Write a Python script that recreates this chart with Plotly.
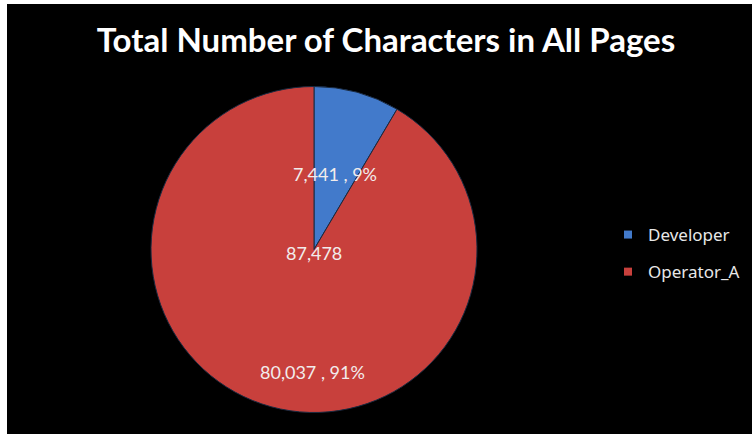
import math
import plotly.graph_objects as go

title = "Total Number of Characters in All Pages"
categories = ["Developer", "Operator_A"]
values = [7441, 80037]
colors = ["#427acb", "#c8403c"]

total = sum(values)

W, H = 752, 434
# pie geometry (style)
cx_px, cy_px, R_px = 314, 249.5, 163
# label placement style: (radius fraction, angular offset in degrees from slice mid-angle)
label_style = [(0.48, 0.0), (0.83, -14.5)]
txt_font = dict(family="Lato", size=18, color="#f2ecec")

fig = go.Figure()

dom_x = [(cx_px - R_px) / W, (cx_px + R_px) / W]
dom_y = [1 - (cy_px + R_px) / H, 1 - (cy_px - R_px) / H]

fig.add_trace(go.Pie(
    labels=categories,
    values=values,
    sort=False,
    direction="clockwise",
    rotation=0,
    marker=dict(colors=colors, line=dict(color="#1a2a40", width=1)),
    textinfo="none",
    domain=dict(x=dom_x, y=dom_y),
    showlegend=False,
    hoverinfo="label+value+percent",
))

# slice labels computed from the data (mid angle of each slice)
cum = 0
for v, (rf, off) in zip(values, label_style):
    mid = (cum + v / 2) / total * 360 + off
    cum += v
    a = math.radians(mid)
    px = cx_px + rf * R_px * math.sin(a)
    py = cy_px - rf * R_px * math.cos(a)
    fig.add_annotation(x=px / W, y=1 - py / H, xref="paper", yref="paper",
                       text=f"{v:,} , {round(v / total * 100)}%", showarrow=False,
                       font=txt_font)

fig.add_annotation(
    x=cx_px / W, y=1 - (cy_px + 3) / H,
    xref="paper", yref="paper", text=f"{total:,}", showarrow=False,
    font=txt_font,
)

# legend entries
for cat, col in zip(categories, colors):
    fig.add_trace(go.Scatter(
        x=[None], y=[None], mode="markers", name=cat,
        marker=dict(symbol="square", size=8, color=col),
        legendgroup=cat, showlegend=True,
    ))

# white border strips (left and top)
fig.add_shape(type="rect", xref="paper", yref="paper", x0=0, x1=7 / W, y0=0, y1=1,
              fillcolor="white", line=dict(width=0), layer="above")
fig.add_shape(type="rect", xref="paper", yref="paper", x0=0, x1=1, y0=1 - 4 / H, y1=1,
              fillcolor="white", line=dict(width=0), layer="above")

fig.update_layout(
    width=W, height=H,
    margin=dict(l=0, r=0, t=0, b=0),
    paper_bgcolor="black", plot_bgcolor="black",
    title=dict(text=f"<b>{title}</b>", x=386 / W, xanchor="center", y=1 - 40 / H, yanchor="middle",
               font=dict(family="Lato", size=33, color="white")),
    xaxis=dict(visible=False), yaxis=dict(visible=False),
    legend=dict(x=608 / W, y=1 - 253.5 / H, xanchor="left", yanchor="middle",
                font=dict(family="Noto Sans", size=17, color="#e8e8e8"),
                itemwidth=30, tracegroupgap=12, bgcolor="rgba(0,0,0,0)"),
)

fig.write_html("out.html", config={"displayModeBar": False},
               post_script="document.body.style.margin='0';")
